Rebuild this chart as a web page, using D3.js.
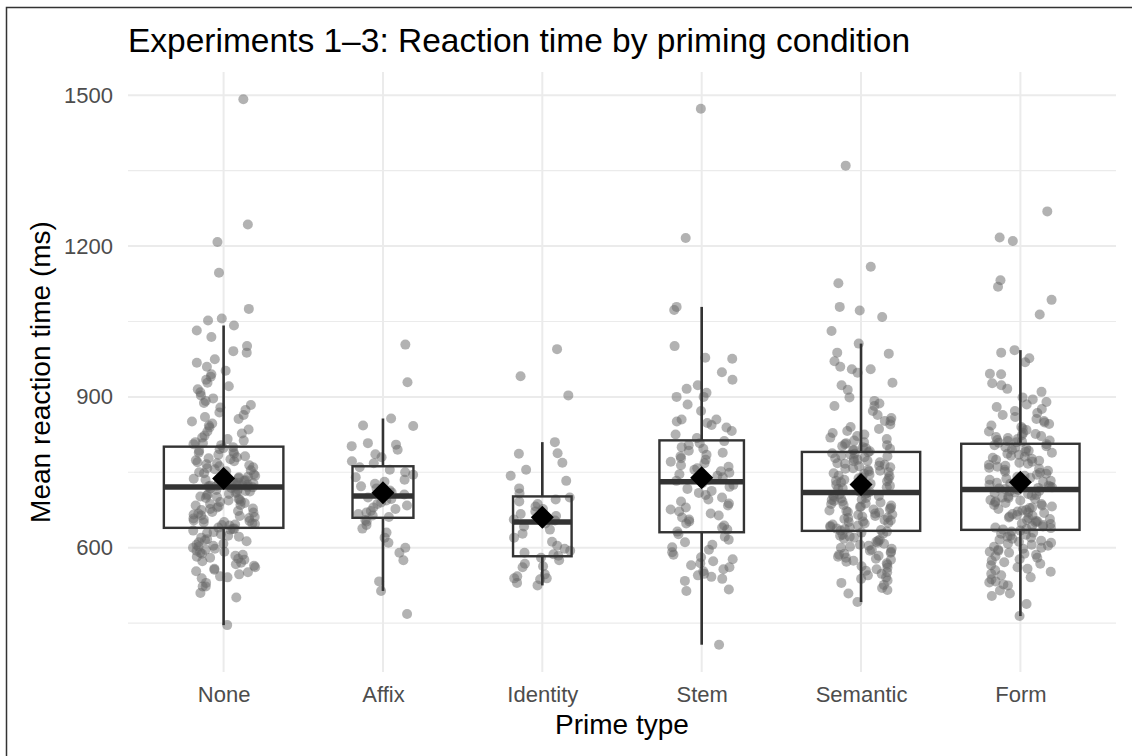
<!DOCTYPE html>
<html>
<head>
<meta charset="utf-8">
<script src="https://cdn.jsdelivr.net/npm/d3@7"></script>
<style>
  html, body { margin: 0; padding: 0; background: #fff; }
  svg { display: block; font-family: "Liberation Sans", Arial, Helvetica, sans-serif; }
</style>
</head>
<body>
<svg id="chart" width="1132" height="756"></svg>
<script>
// ---- data (mean reaction time per item, ms) ----
const categories = ["None", "Affix", "Identity", "Stem", "Semantic", "Form"];

const rtNone = [
  1492, 1243, 1208, 1147, 1075, 1056, 1052, 1042, 1032, 1019, 1001, 991, 988, 975, 968, 960, 952, 945, 940, 934,
  928, 921, 915, 909, 903, 897, 892, 888, 884, 879, 874, 869, 864, 860, 856, 851, 847, 843, 839, 835,
  831, 827, 823, 819, 816, 813, 810, 808, 806, 804,
  800, 798, 796, 793, 791, 789, 787, 785, 782, 780, 778, 776, 774, 772, 770, 768, 766, 764, 762, 760,
  758, 756, 754, 752, 750, 748, 746, 745, 743, 741, 740, 738, 737, 735, 734, 733, 731, 730, 729, 728,
  727, 726, 725, 724, 724, 723, 723, 722, 722, 721,
  720, 719, 718, 716, 715, 713, 712, 710, 709, 707, 706, 704, 702, 701, 699, 697, 696, 694, 692, 691,
  689, 687, 685, 684, 682, 680, 678, 677, 675, 673, 671, 670, 668, 666, 664, 663, 661, 659, 658, 656,
  654, 653, 651, 650, 648, 647, 646, 645, 644, 640,
  638, 636, 634, 631, 629, 627, 624, 622, 620, 617, 615, 613, 611, 608, 606, 604, 602, 600, 598, 596,
  594, 592, 590, 588, 586, 584, 582, 580, 578, 576, 573, 570, 567, 564, 561, 558, 556, 553, 551, 547,
  543, 541, 539, 530, 523, 523, 510, 501, 446, 637
];
const rtAffix = [
  1004, 929, 857, 843, 842, 808, 805, 802, 795, 786, 780, 772, 768,
  760, 755, 750, 745, 740, 735, 731, 727, 722, 718, 714, 710, 706,
  700, 697, 694, 690, 687, 684, 680, 677, 673, 670, 667, 664, 661,
  655, 652, 645, 638, 630, 620, 610, 600, 590, 575, 533, 514, 468
];
const rtIdentity = [
  995, 941, 903, 810, 788, 787, 769, 755, 743, 733, 718, 708,
  700, 696, 692, 687, 682, 677, 672, 667, 663, 659, 656, 654,
  648, 642, 636, 628, 620, 612, 604, 598, 594, 590, 587, 584,
  580, 575, 568, 563, 561, 547, 543, 539, 539, 537, 530, 525
];
const rtStem = [
  1473, 1216, 1079, 1073, 1001, 978, 976, 949, 934, 923, 916, 908, 900, 900, 885, 872, 855, 855, 851, 848,
  844, 839, 832, 825, 818,
  812, 808, 804, 800, 797, 793, 789, 785, 782, 778, 775, 771, 768, 764, 761, 758, 755, 752, 749, 746,
  743, 740, 737, 735, 733,
  729, 725, 721, 717, 713, 709, 705, 700, 696, 692, 688, 684, 680, 676, 672, 668, 664, 660, 656, 652,
  648, 644, 640, 636, 632,
  627, 622, 616, 611, 606, 601, 596, 591, 586, 581, 577, 573, 569, 565, 561, 557, 553, 548, 545, 542,
  538, 534, 517, 514, 407
];
const rtSemantic = [
  1360, 1159, 1126, 1079, 1072, 1059, 1031, 1006, 988, 986, 971, 960, 955, 955, 948, 928, 923, 914, 899, 892,
  887, 882, 882, 872, 864, 858, 852, 852, 845, 840, 836, 832, 828, 825, 822, 819, 816, 813, 810, 808,
  806, 804, 802, 800, 798, 797, 795, 794, 792,
  790, 788, 787, 785, 783, 782, 780, 778, 777, 775, 773, 772, 770, 768, 767, 765, 763, 762, 760, 758,
  757, 755, 753, 752, 750, 748, 747, 745, 743, 742, 740, 738, 737, 735, 733, 732, 730, 728, 727, 725,
  723, 722, 720, 718, 717, 715, 713, 712, 711,
  709, 707, 706, 704, 703, 701, 699, 698, 696, 695, 693, 692, 690, 688, 687, 685, 684, 682, 681, 679,
  677, 676, 674, 673, 671, 670, 668, 666, 665, 663, 662, 660, 659, 657, 655, 654, 652, 651, 649, 648,
  646, 644, 643, 641, 640, 638, 637, 635, 634,
  632, 630, 628, 626, 624, 622, 620, 618, 616, 614, 612, 610, 608, 606, 604, 602, 600, 598, 596, 594,
  592, 590, 588, 586, 584, 582, 580, 578, 576, 574, 572, 569, 566, 563, 560, 557, 554, 551, 548, 545,
  541, 538, 535, 530, 526, 520, 516, 509, 492
];
const rtForm = [
  1269, 1217, 1210, 1132, 1119, 1093, 1064, 993, 988, 977, 969, 946, 945, 927, 923, 916, 910, 899, 895, 890,
  885, 880, 876, 872, 868, 864, 860, 856, 852, 849, 846, 843, 840, 837, 834, 831, 828, 826, 824, 822,
  820, 818, 816, 814, 813, 812, 811, 810, 809,
  806, 804, 802, 800, 799, 797, 795, 793, 791, 789, 787, 785, 783, 781, 779, 777, 775, 773, 771, 769,
  767, 765, 763, 761, 759, 757, 755, 753, 751, 749, 747, 745, 743, 741, 739, 737, 735, 733, 731, 729,
  727, 725, 723, 721, 720, 719, 718, 717, 717,
  715, 713, 712, 710, 709, 707, 705, 704, 702, 700, 699, 697, 695, 694, 692, 690, 689, 687, 685, 684,
  682, 680, 679, 677, 675, 674, 672, 670, 669, 667, 665, 664, 662, 660, 659, 657, 655, 653, 652, 650,
  648, 647, 645, 643, 642, 640, 639, 637, 636,
  634, 632, 630, 628, 626, 624, 622, 620, 618, 616, 614, 612, 610, 608, 606, 604, 602, 600, 598, 596,
  594, 592, 590, 588, 586, 583, 580, 577, 574, 571, 568, 565, 561, 558, 555, 552, 548, 545, 541, 537,
  533, 531, 527, 525, 515, 509, 504, 488, 464
];
const seriesByCategory = [rtNone, rtAffix, rtIdentity, rtStem, rtSemantic, rtForm];
const yTicks = [600, 900, 1200, 1500];
const yMinorTicks = [450, 750, 1050, 1350];

const titleText = "Experiments 1\u20133: Reaction time by priming condition";
const xTitle = "Prime type";
const yTitle = "Mean reaction time (ms)";

// ---- layout ----
const W = 1132, H = 756;
const panel = { left: 128, right: 1116, top: 72, bottom: 672 };
const FONT = "'Liberation Sans', Arial, Helvetica, sans-serif";

const svg = d3.select("#chart");

// outer frame
svg.append("rect")
  .attr("x", 6.5).attr("y", 7.5).attr("width", W).attr("height", H)
  .attr("fill", "none").attr("stroke", "#333").attr("stroke-width", 1.5);

const allVals = seriesByCategory.flat();
const [vmin, vmax] = d3.extent(allVals);
const pad = (vmax - vmin) * 0.05;
const y = d3.scaleLinear().domain([vmin - pad, vmax + pad]).range([panel.bottom, panel.top]);
const x = d3.scalePoint().domain(categories).range([panel.left, panel.right]).padding(0.6);
const step = x.step();

const grid = svg.append("g");
grid.selectAll("line.minor").data(yMinorTicks).join("line")
  .attr("x1", panel.left).attr("x2", panel.right)
  .attr("y1", d => y(d)).attr("y2", d => y(d))
  .attr("stroke", "#ebebeb").attr("stroke-width", 1.1);
grid.selectAll("line.major").data(yTicks).join("line")
  .attr("x1", panel.left).attr("x2", panel.right)
  .attr("y1", d => y(d)).attr("y2", d => y(d))
  .attr("stroke", "#ebebeb").attr("stroke-width", 2);
grid.selectAll("line.vert").data(categories).join("line")
  .attr("x1", d => x(d)).attr("x2", d => x(d))
  .attr("y1", panel.top).attr("y2", panel.bottom)
  .attr("stroke", "#ebebeb").attr("stroke-width", 2);

// y axis
const yAxis = svg.append("g").attr("transform", `translate(${panel.left},0)`)
  .call(d3.axisLeft(y).tickValues(yTicks).tickFormat(d3.format("d")).tickSize(0).tickPadding(15));
yAxis.select(".domain").remove();
yAxis.selectAll("text").attr("fill", "#4d4d4d").style("font-size", "22px").style("font-family", FONT);

// x axis
const xAxis = svg.append("g").attr("transform", `translate(0,${panel.bottom})`)
  .call(d3.axisBottom(x).tickSize(0).tickPadding(14));
xAxis.select(".domain").remove();
xAxis.selectAll("text").attr("fill", "#4d4d4d").style("font-size", "22px").style("font-family", FONT);

// deterministic jitter (visual spread only)
function jitter(i, g) {
  const s = Math.sin(i * 12.9898 + g * 78.233 + 1.7) * 43758.5453;
  return (s - Math.floor(s)) * 2 - 1;
}
const jitterHalf = 0.2 * step;

const pts = svg.append("g");
seriesByCategory.forEach((vals, g) => {
  pts.selectAll(null).data(vals).join("circle")
    .attr("cx", (d, i) => x(categories[g]) + jitter(i, g) * jitterHalf)
    .attr("cy", d => y(d))
    .attr("r", 5)
    .attr("fill", "#666")
    .attr("fill-opacity", 0.5);
});

// box plots (varwidth)
const maxN = d3.max(seriesByCategory, s => s.length);
const boxes = svg.append("g");
seriesByCategory.forEach((vals, g) => {
  const s = vals.slice().sort(d3.ascending);
  const q1 = d3.quantile(s, 0.25), med = d3.quantile(s, 0.5), q3 = d3.quantile(s, 0.75);
  const iqr = q3 - q1;
  const lo = d3.min(s.filter(v => v >= q1 - 1.5 * iqr));
  const hi = d3.max(s.filter(v => v <= q3 + 1.5 * iqr));
  const cx = x(categories[g]);
  const bw = 0.75 * step * Math.sqrt(s.length / maxN);
  const gb = boxes.append("g").attr("stroke", "#333").attr("fill", "none");
  gb.append("line").attr("x1", cx).attr("x2", cx).attr("y1", y(q3)).attr("y2", y(hi)).attr("stroke-width", 2.6);
  gb.append("line").attr("x1", cx).attr("x2", cx).attr("y1", y(q1)).attr("y2", y(lo)).attr("stroke-width", 2.6);
  gb.append("rect").attr("x", cx - bw / 2).attr("width", bw)
    .attr("y", y(q3)).attr("height", y(q1) - y(q3)).attr("stroke-width", 2.4);
  gb.append("line").attr("x1", cx - bw / 2).attr("x2", cx + bw / 2)
    .attr("y1", y(med)).attr("y2", y(med)).attr("stroke-width", 5.5);
  const m = d3.mean(s);
  const r = 11.5;
  svg.append("path")
    .attr("d", `M${cx},${y(m) - r}L${cx + r},${y(m)}L${cx},${y(m) + r}L${cx - r},${y(m)}Z`)
    .attr("fill", "#000");
});

// titles
svg.append("text").attr("x", panel.left).attr("y", 52)
  .attr("fill", "#000").style("font-size", "33.5px").style("font-family", FONT).text(titleText);
svg.append("text").attr("x", (panel.left + panel.right) / 2).attr("y", 734)
  .attr("text-anchor", "middle").attr("fill", "#000").style("font-size", "28px").style("font-family", FONT).text(xTitle);
svg.append("text").attr("transform", `translate(50,${(panel.top + panel.bottom) / 2}) rotate(-90)`)
  .attr("text-anchor", "middle").attr("fill", "#000").style("font-size", "28px").style("font-family", FONT).text(yTitle);
</script>
</body>
</html>
